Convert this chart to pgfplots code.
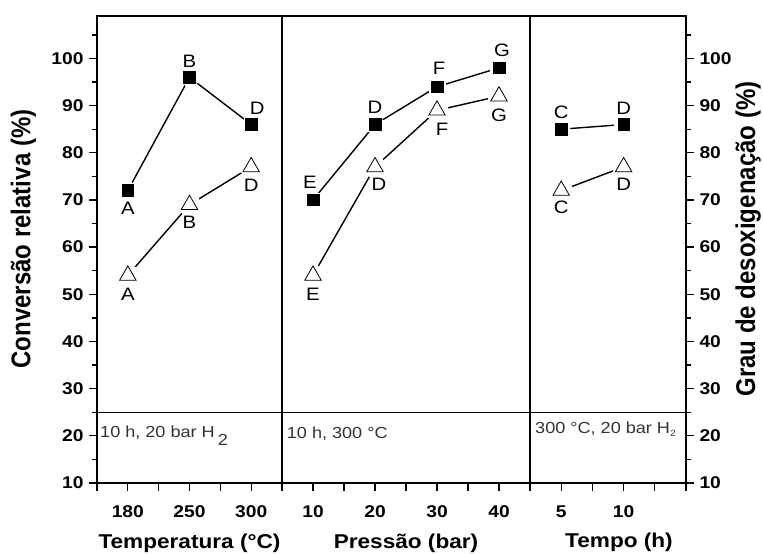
\documentclass[border=0pt]{standalone}
\usepackage{fontspec}
\setmainfont{Liberation Sans}[FakeStretch=1.13]
\newfontfamily\bfont{Liberation Sans Bold}[FakeStretch=1.13]
\newfontfamily\rotfont{Liberation Sans}
\usepackage{graphicx}
\usepackage{pgfplots}
\usepackage{pgfplotstable}
\pgfplotsset{compat=1.18}

% anc: 90 = label below the point (node anchored at its top), 270 = label above
% Panel 1: temperature (categories at 1,2,3)
\pgfplotstableread{
x y lab anc dx dy
1 72 A 90 0 -11
2 96 B 270 0 10
3 86 D 270 6 10
}\sqA
\pgfplotstableread{
x y lab anc dx dy
1 54 A 90 0 -12
2 69 B 90 0 -11
3 77 D 90 0 -12
}\trA
% Panel 2: pressure
\pgfplotstableread{
x y lab anc dx dy
10 70 E 270 -3 11
20 86 D 270 0 11
30 94 F 270 2 12
40 98 G 270 3 11
}\sqB
\pgfplotstableread{
x y lab anc dx dy
10 54 E 90 0 -12
20 77 D 90 4 -11
30 89 F 90 5 -12
40 92 G 90 0 -12
}\trB
% Panel 3: time
\pgfplotstableread{
x y lab anc dx dy
5 85 C 270 0 10
10 86 D 270 0 10
}\sqC
\pgfplotstableread{
x y lab anc dx dy
5 72 C 90 0 -10
10 77 D 90 0 -11
}\trC

\tikzset{annot/.style={anchor=base west, inner sep=0pt, text=black!80, font=\fontsize{16}{16}\selectfont}}

\pgfplotsset{
  panel/.style={
    scale only axis, height=467pt, ymin=10, ymax=109, clip=false,
    axis line style={line width=2pt},
    tick align=outside, xtick pos=bottom,
    major tick length=8pt, minor tick length=5pt,
    tick style={line width=1.3pt, black},
    ytick={10,20,...,100}, minor ytick={15,25,...,105},
    ticklabel style={font=\bfont\fontsize{17}{17}\selectfont},
    xticklabel shift=11pt,
    /pgf/number format/assume math mode=true,
    xlabel style={font=\bfont\fontsize{20}{20}\selectfont},
    ylabel style={font=\bfseries\fontsize{24}{24}\selectfont},
  },
  hline/.style={no marks, black, line width=1.4pt},
  conn/.style={no marks, black, line width=1.4pt},
  halo/.style={only marks, white, mark=*, mark size=#1, mark options={draw=white, fill=white, line width=0pt}},
  labelled/.style={
    nodes near coords, point meta=explicit symbolic,
    visualization depends on={\thisrow{anc}\as\myanc},
    visualization depends on={\thisrow{dx}\as\mydx},
    visualization depends on={\thisrow{dy}\as\mydy},
    every node near coord/.append style={anchor=\myanc, xshift=\mydx pt, yshift=\mydy pt,
      inner sep=0pt, font=\fontsize{18}{18}\selectfont, text=black},
  },
  sq/.style={only marks, black, mark=square*, mark size=5.8pt,
    mark options={fill=black, draw=black, line width=0.6pt}, labelled},
  tr/.style={only marks, black, mark=triangle*, mark size=9.5pt,
    mark options={fill=white, draw=black, line width=0.8pt}, labelled},
}

\begin{document}
\begin{tikzpicture}
\path[use as bounding box] (0,0) rectangle (763pt,554pt);

% ---------------- Panel 1
\begin{axis}[panel, at={(97pt,71pt)}, anchor=south west, width=185pt,
  xmin=0.5, xmax=3.5, xtick={0.5,1,1.5,2,2.5,3,3.5},
  xticklabels={,180,,250,,300,},
  ytick pos=left,
  xlabel={Temperatura (°C)},
  xlabel style={at={([yshift=-66pt]axis description cs:0.5,0)}, anchor=base},
  ylabel={\rotfont\bfseries\scalebox{1}[1.13]{Conversão relativa (\%)}},
  ylabel style={at={([xshift=-66.5pt,yshift=10.5pt]axis description cs:0,0.5)}, anchor=base},
  yticklabel style={xshift=-2pt},
]
\addplot[hline] coordinates {(0.5,25) (3.5,25)};
\addplot[conn] table[x=x,y=y] {\sqA};
\addplot[conn] table[x=x,y=y] {\trA};
\addplot[halo=9pt] table[x=x,y=y] {\sqA};
\addplot[halo=11pt] table[x=x,y=y] {\trA};
\addplot[sq] table[x=x,y=y,meta=lab] {\sqA};
\addplot[tr] table[x=x,y=y,meta=lab] {\trA};
\node[annot] at ([xshift=3pt]axis cs:0.5,19.75) {10 h, 20 bar H\hspace{3pt}\raisebox{-8pt}{2}};
\end{axis}

% ---------------- Panel 2
\begin{axis}[panel, at={(282pt,71pt)}, anchor=south west, width=248pt,
  xmin=5, xmax=45, xtick={5,10,...,45},
  xticklabels={,10,,20,,30,,40,},
  ytick=\empty, minor ytick={},
  xlabel={Pressão (bar)},
  xlabel style={at={([yshift=-66pt]axis description cs:0.5,0)}, anchor=base},
]
\addplot[hline] coordinates {(5,25) (45,25)};
\addplot[conn] table[x=x,y=y] {\sqB};
\addplot[conn] table[x=x,y=y] {\trB};
\addplot[halo=9pt] table[x=x,y=y] {\sqB};
\addplot[halo=11pt] table[x=x,y=y] {\trB};
\addplot[sq] table[x=x,y=y,meta=lab] {\sqB};
\addplot[tr] table[x=x,y=y,meta=lab] {\trB};
\node[annot] at ([xshift=4.7pt]axis cs:5,19.5) {10 h, 300 °C};
\end{axis}

% ---------------- Panel 3
\begin{axis}[panel, at={(530pt,71pt)}, anchor=south west, width=156pt,
  xmin=2.5, xmax=15, xtick={2.5,5,7.5,10,12.5,15},
  xticklabels={,5,,10,,},
  ytick pos=right, yticklabel pos=right,
  xlabel={Tempo (h)},
  xlabel style={at={([xshift=11pt,yshift=-64pt]axis description cs:0.5,0)}, anchor=base},
  ylabel={\rotfont\bfseries\scalebox{1}[1.13]{Grau de desoxigenação (\%)}},
  ylabel style={at={([xshift=69pt,yshift=10.5pt]axis description cs:1,0.5)}, anchor=base},
  yticklabel style={xshift=2pt},
]
\addplot[hline] coordinates {(2.5,25) (15,25)};
\addplot[conn] table[x=x,y=y] {\sqC};
\addplot[conn] table[x=x,y=y] {\trC};
\addplot[halo=9pt] table[x=x,y=y] {\sqC};
\addplot[halo=11pt] table[x=x,y=y] {\trC};
\addplot[sq] table[x=x,y=y,meta=lab] {\sqC};
\addplot[tr] table[x=x,y=y,meta=lab] {\trC};
\node[annot] at ([xshift=5pt]axis cs:2.5,20.4) {300 °C, 20 bar H\textsubscript{\fontsize{9}{9}\selectfont 2}};
\end{axis}
\end{tikzpicture}
\end{document}
